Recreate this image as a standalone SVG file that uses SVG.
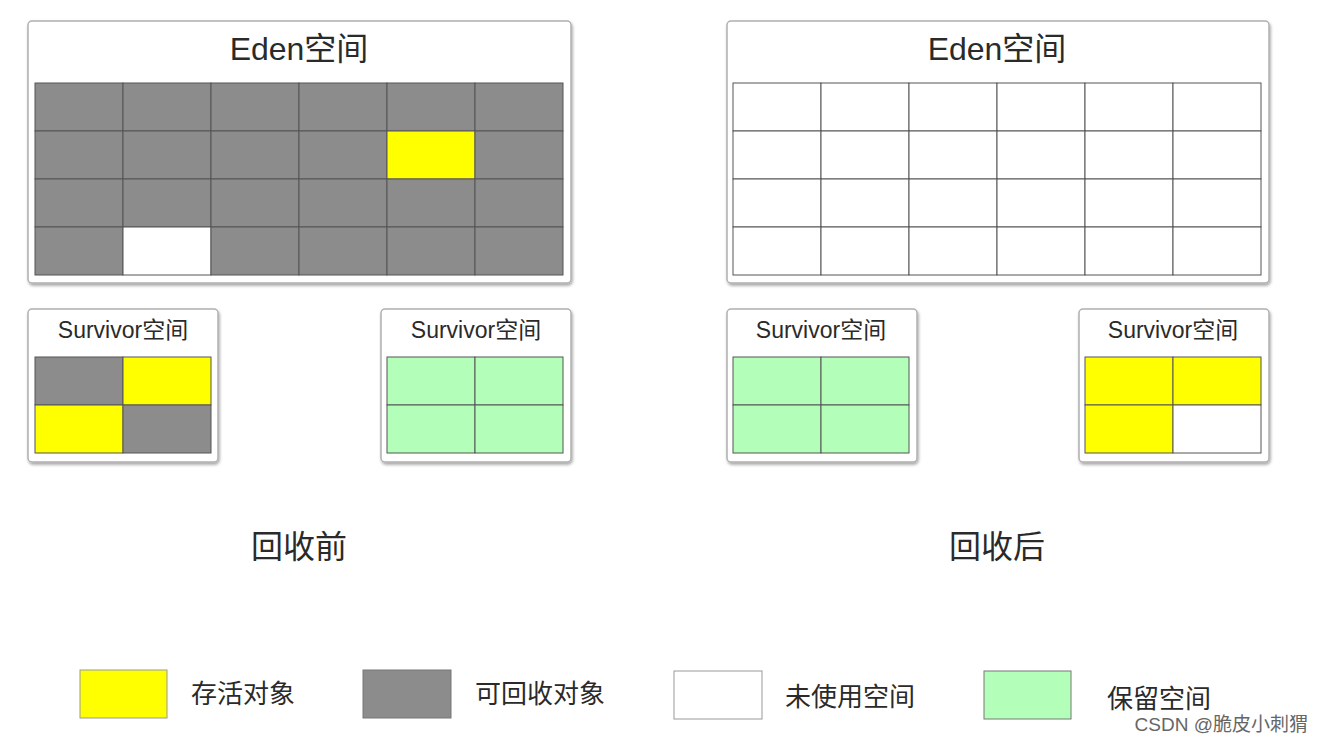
<svg xmlns="http://www.w3.org/2000/svg" width="1322" height="744" viewBox="0 0 1322 744">
<defs>
<filter id="sh" x="-5%" y="-5%" width="112%" height="115%">
<feDropShadow dx="1" dy="2" stdDeviation="1.5" flood-color="#000" flood-opacity="0.35"/>
</filter>
<style>
.box{fill:#fff;stroke:#b0b0b0;stroke-width:1.5;filter:url(#sh)}
.g{fill:#8c8c8c;stroke:#555;stroke-width:1}
.y{fill:#ffff00;stroke:#555;stroke-width:1}
.w{fill:#fff;stroke:#555;stroke-width:1}
.gr{fill:#b3ffb9;stroke:#555;stroke-width:1}
.t{font-family:"Liberation Sans","Noto Sans CJK SC",sans-serif;fill:#2a2a2a;text-anchor:middle}
.lt{font-family:"Liberation Sans","Noto Sans CJK SC",sans-serif;fill:#2a2a2a;font-size:26px}
</style>
</defs>
<rect width="1322" height="744" fill="#fff"/>

<g id="eden-before">
<rect class="box" x="28" y="21" width="543" height="262" rx="4"/>
<text class="t" x="299" y="60" font-size="32">Eden空间</text>
<g>
<rect class="g" x="35" y="83" width="88" height="48"/><rect class="g" x="123" y="83" width="88" height="48"/><rect class="g" x="211" y="83" width="88" height="48"/><rect class="g" x="299" y="83" width="88" height="48"/><rect class="g" x="387" y="83" width="88" height="48"/><rect class="g" x="475" y="83" width="88" height="48"/>
<rect class="g" x="35" y="131" width="88" height="48"/><rect class="g" x="123" y="131" width="88" height="48"/><rect class="g" x="211" y="131" width="88" height="48"/><rect class="g" x="299" y="131" width="88" height="48"/><rect class="y" x="387" y="131" width="88" height="48"/><rect class="g" x="475" y="131" width="88" height="48"/>
<rect class="g" x="35" y="179" width="88" height="48"/><rect class="g" x="123" y="179" width="88" height="48"/><rect class="g" x="211" y="179" width="88" height="48"/><rect class="g" x="299" y="179" width="88" height="48"/><rect class="g" x="387" y="179" width="88" height="48"/><rect class="g" x="475" y="179" width="88" height="48"/>
<rect class="g" x="35" y="227" width="88" height="48"/><rect class="w" x="123" y="227" width="88" height="48"/><rect class="g" x="211" y="227" width="88" height="48"/><rect class="g" x="299" y="227" width="88" height="48"/><rect class="g" x="387" y="227" width="88" height="48"/><rect class="g" x="475" y="227" width="88" height="48"/>
</g>
</g>

<g id="eden-after">
<rect class="box" x="727" y="21" width="542" height="262" rx="4"/>
<text class="t" x="997" y="60" font-size="32">Eden空间</text>
<g>
<rect class="w" x="733" y="83" width="88" height="48"/><rect class="w" x="821" y="83" width="88" height="48"/><rect class="w" x="909" y="83" width="88" height="48"/><rect class="w" x="997" y="83" width="88" height="48"/><rect class="w" x="1085" y="83" width="88" height="48"/><rect class="w" x="1173" y="83" width="88" height="48"/>
<rect class="w" x="733" y="131" width="88" height="48"/><rect class="w" x="821" y="131" width="88" height="48"/><rect class="w" x="909" y="131" width="88" height="48"/><rect class="w" x="997" y="131" width="88" height="48"/><rect class="w" x="1085" y="131" width="88" height="48"/><rect class="w" x="1173" y="131" width="88" height="48"/>
<rect class="w" x="733" y="179" width="88" height="48"/><rect class="w" x="821" y="179" width="88" height="48"/><rect class="w" x="909" y="179" width="88" height="48"/><rect class="w" x="997" y="179" width="88" height="48"/><rect class="w" x="1085" y="179" width="88" height="48"/><rect class="w" x="1173" y="179" width="88" height="48"/>
<rect class="w" x="733" y="227" width="88" height="48"/><rect class="w" x="821" y="227" width="88" height="48"/><rect class="w" x="909" y="227" width="88" height="48"/><rect class="w" x="997" y="227" width="88" height="48"/><rect class="w" x="1085" y="227" width="88" height="48"/><rect class="w" x="1173" y="227" width="88" height="48"/>
</g>
</g>

<g id="survivor-before-1">
<rect class="box" x="28" y="309" width="190" height="153" rx="4"/>
<text class="t" x="123" y="338" font-size="23">Survivor空间</text>
<rect class="g" x="35" y="357" width="88" height="48"/><rect class="y" x="123" y="357" width="88" height="48"/>
<rect class="y" x="35" y="405" width="88" height="48"/><rect class="g" x="123" y="405" width="88" height="48"/>
</g>

<g id="survivor-before-2">
<rect class="box" x="381" y="309" width="190" height="153" rx="4"/>
<text class="t" x="476" y="338" font-size="23">Survivor空间</text>
<rect class="gr" x="387" y="357" width="88" height="48"/><rect class="gr" x="475" y="357" width="88" height="48"/>
<rect class="gr" x="387" y="405" width="88" height="48"/><rect class="gr" x="475" y="405" width="88" height="48"/>
</g>

<g id="survivor-after-1">
<rect class="box" x="727" y="309" width="190" height="153" rx="4"/>
<text class="t" x="821" y="338" font-size="23">Survivor空间</text>
<rect class="gr" x="733" y="357" width="88" height="48"/><rect class="gr" x="821" y="357" width="88" height="48"/>
<rect class="gr" x="733" y="405" width="88" height="48"/><rect class="gr" x="821" y="405" width="88" height="48"/>
</g>

<g id="survivor-after-2">
<rect class="box" x="1079" y="309" width="190" height="153" rx="4"/>
<text class="t" x="1173" y="338" font-size="23">Survivor空间</text>
<rect class="y" x="1085" y="357" width="88" height="48"/><rect class="y" x="1173" y="357" width="88" height="48"/>
<rect class="y" x="1085" y="405" width="88" height="48"/><rect class="w" x="1173" y="405" width="88" height="48"/>
</g>

<g id="label-before"><text class="t" x="299" y="558" font-size="32">回收前</text></g>
<g id="label-after"><text class="t" x="997" y="558" font-size="32">回收后</text></g>

<g id="legend">
<rect class="y" x="80" y="670" width="87" height="48" style="stroke:#999"/>
<text class="lt" x="191" y="703">存活对象</text>
<rect class="g" x="363" y="670" width="88" height="48" style="stroke:#777"/>
<text class="lt" x="475" y="703">可回收对象</text>
<rect class="w" x="674" y="671" width="88" height="48" style="stroke:#999"/>
<text class="lt" x="785" y="706">未使用空间</text>
<rect class="gr" x="984" y="671" width="87" height="48" style="stroke:#777"/>
<text class="lt" x="1107" y="708">保留空间</text>
</g>

<text x="1308" y="731" font-family="'Liberation Sans','Noto Sans CJK SC',sans-serif" font-size="19" fill="#666" text-anchor="end">CSDN @脆皮小刺猬</text>
</svg>
